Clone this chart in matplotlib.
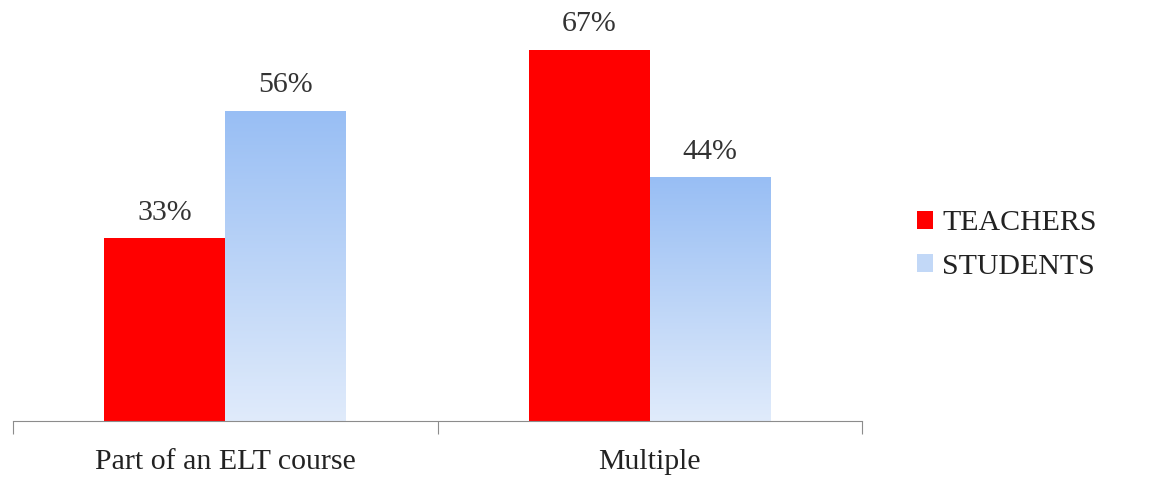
import numpy as np
import matplotlib.pyplot as plt
from matplotlib.patches import Patch
from matplotlib.colors import LinearSegmentedColormap

categories = ["Part of an ELT course", "Multiple"]
teachers = [33, 67]
students = [56, 44]

plt.rcParams['font.family'] = ['Liberation Serif', 'DejaVu Serif']

fig = plt.figure(figsize=(11.55, 4.88), dpi=100)
ax = fig.add_axes([13 / 1155, 67 / 488, 849 / 1155, 391 / 488])

x = np.arange(len(categories))
w = 0.285
red = "#FF0000"
blue_cmap = LinearSegmentedColormap.from_list("blue_grad", ["#E0EBFB", "#98BEF4"])

bars_t = ax.bar(x - w / 2, teachers, w, color=red, zorder=2)
bars_s = ax.bar(x + w / 2, students, w, color="none", zorder=2)

# gradient fill for the students bars
grad = np.linspace(0, 1, 256).reshape(-1, 1)
for b in bars_s:
    x0, y0 = b.get_x(), b.get_y()
    im = ax.imshow(grad, cmap=blue_cmap, origin="lower", aspect="auto",
                   extent=[x0, x0 + b.get_width(), y0, y0 + b.get_height()], zorder=2)
    im.set_clip_path(b)

for b, v in list(zip(bars_t, teachers)) + list(zip(bars_s, students)):
    ax.annotate(f"{v}%", (b.get_x() + b.get_width() / 2, v), xytext=(0, 9),
                textcoords="offset points", ha="center", va="bottom",
                fontsize=21.5, color="#333333")

ax.set_xlim(-0.5, 1.5)
ax.set_ylim(0, 70.6)
ax.set_yticks([])
for s in ["top", "right", "left"]:
    ax.spines[s].set_visible(False)
ax.spines["bottom"].set_color("#8C8C8C")
ax.set_xticks([-0.5, 0.5, 1.5])
ax.set_xticklabels([])
ax.set_xticks(x, minor=True)
ax.set_xticklabels(categories, minor=True, fontsize=21.5, color="#222222")
ax.tick_params(axis="x", which="major", length=9, color="#8C8C8C", direction="out")
ax.tick_params(axis="x", which="minor", length=0, pad=20)

handles = [Patch(facecolor=red, label="TEACHERS"),
           Patch(facecolor="#C2D8F7", label="STUDENTS")]
fig.legend(handles=handles, loc="center left", bbox_to_anchor=(890 / 1155, 1 - 245 / 488),
           frameon=False, fontsize=21.5, handlelength=0.55, handleheight=0.55,
           handletextpad=0.3, labelspacing=0.58, labelcolor="#222222")

fig.savefig("out.png", dpi=100)
